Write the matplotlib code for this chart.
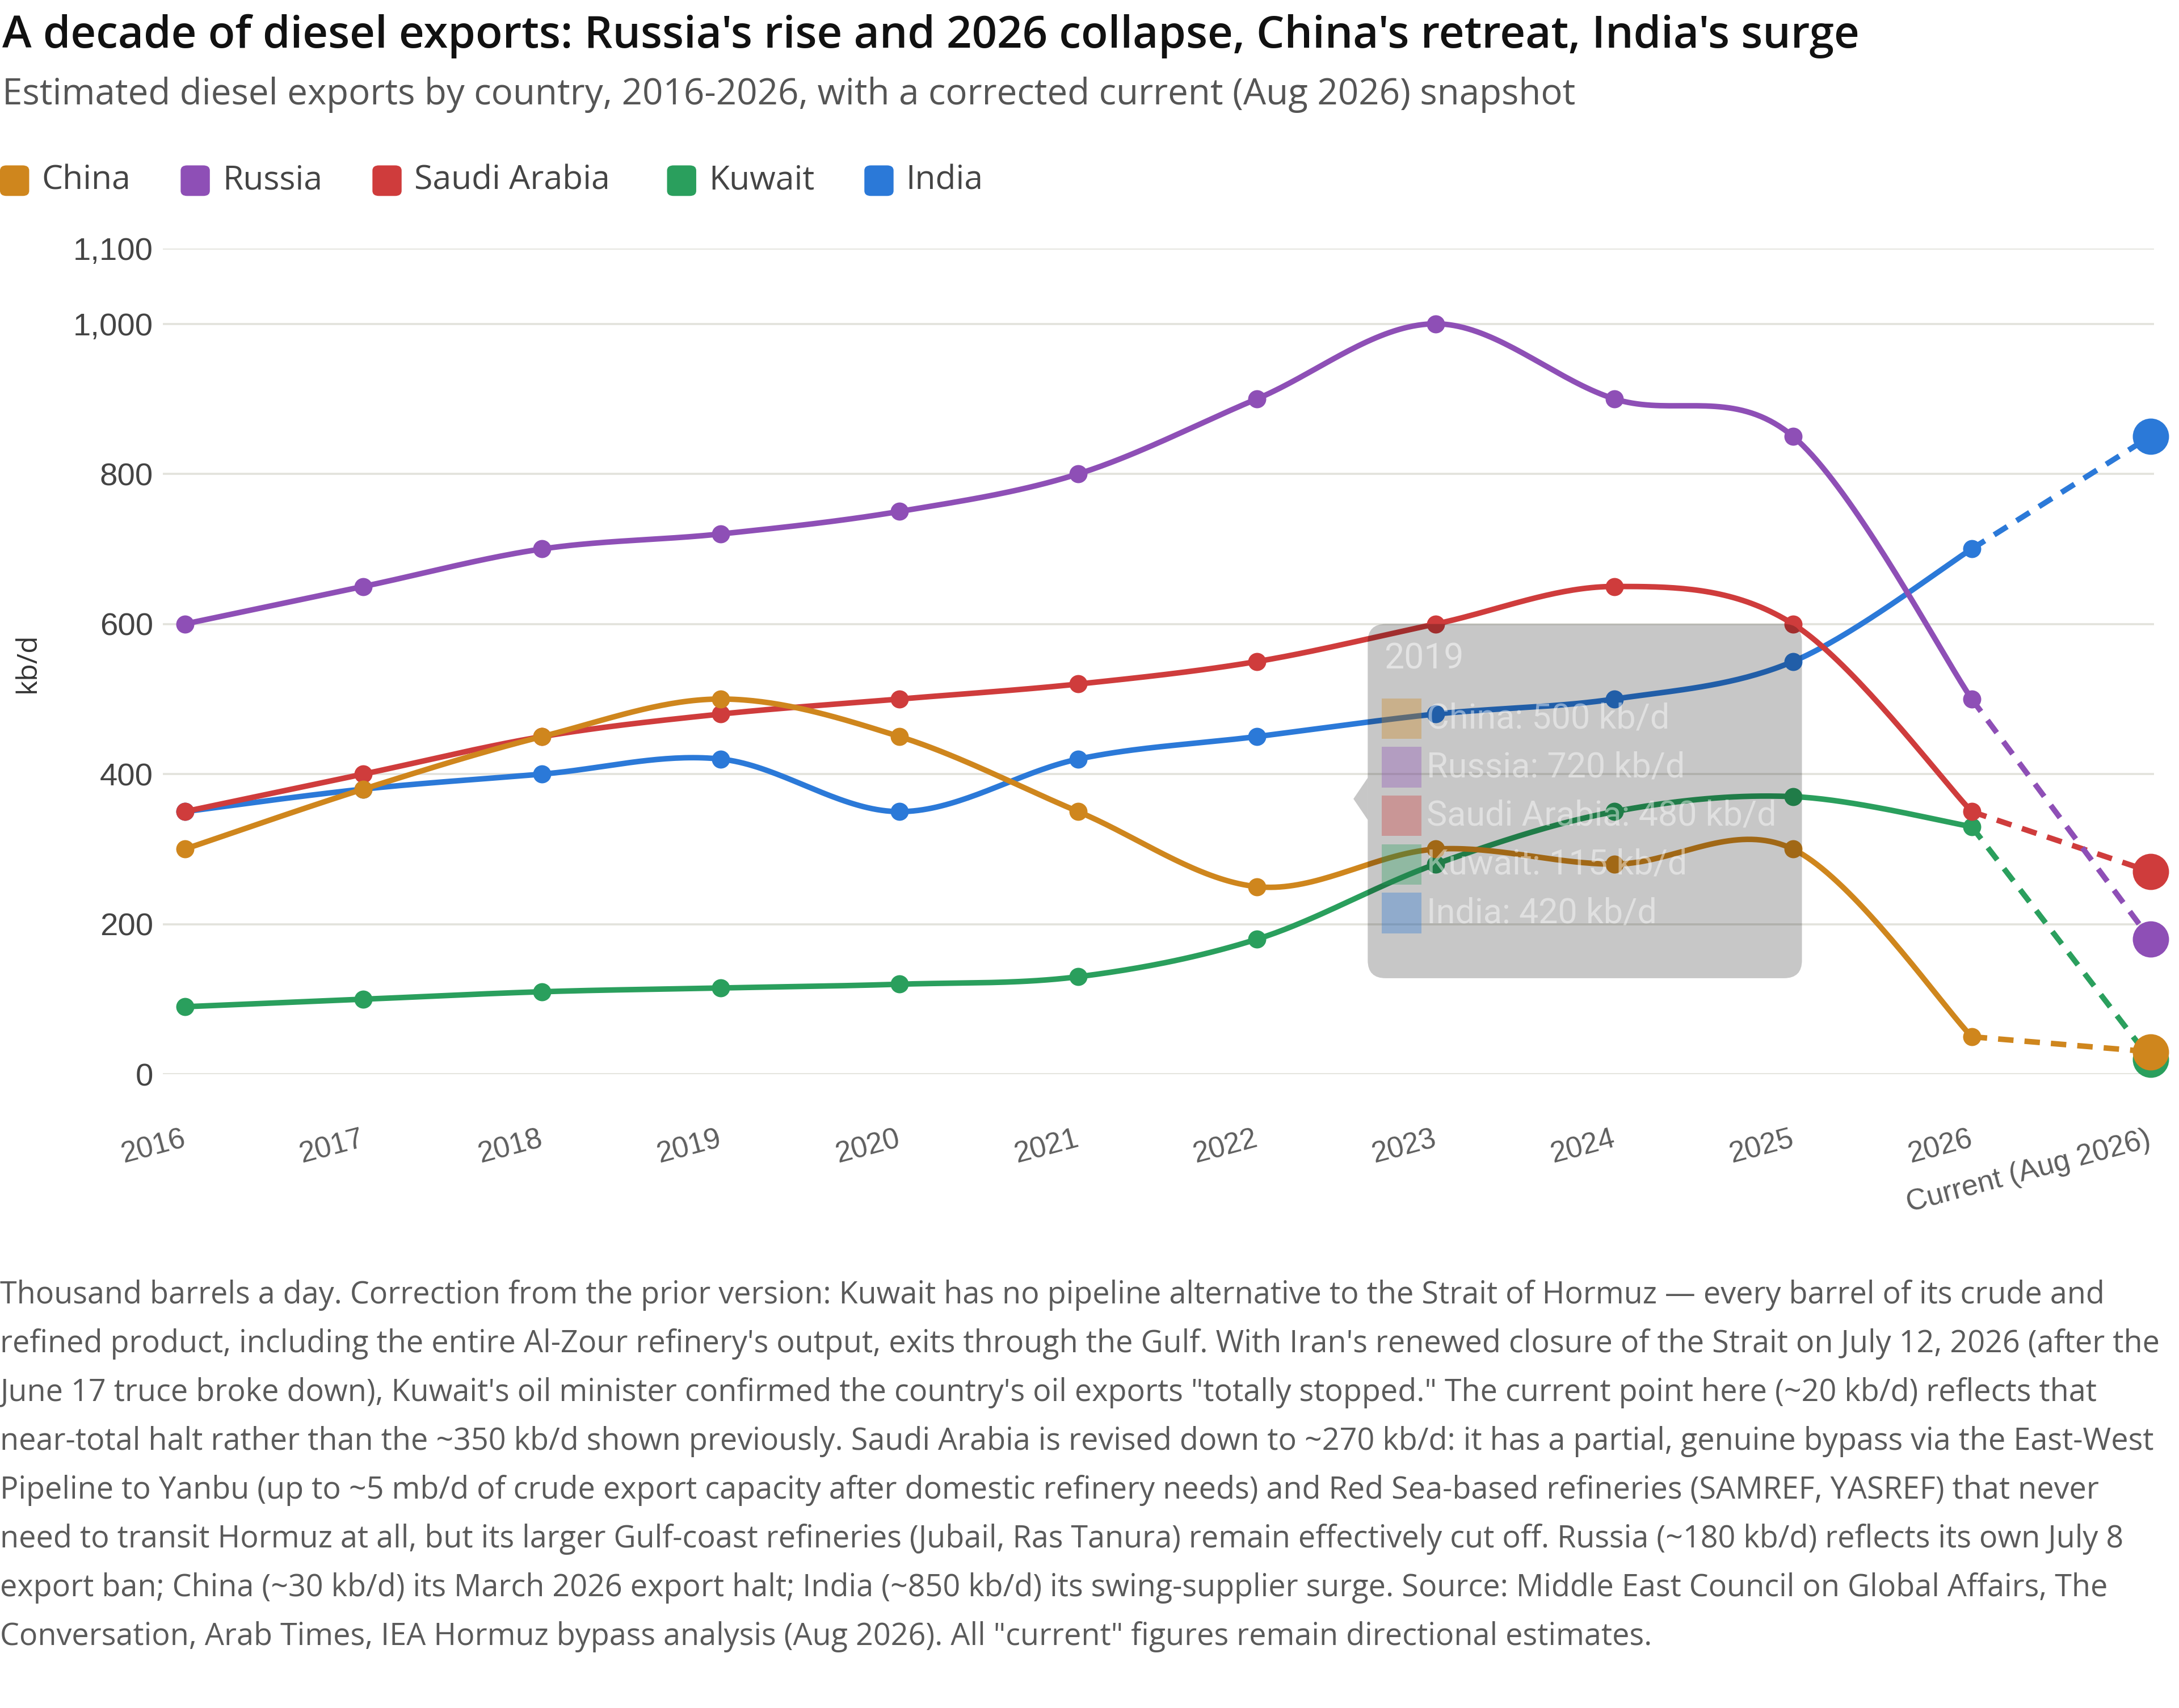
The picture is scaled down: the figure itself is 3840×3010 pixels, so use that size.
import numpy as np
import matplotlib.pyplot as plt
from matplotlib.patches import FancyBboxPatch, Polygon, Rectangle

# data (kb/d)
years = ['2016', '2017', '2018', '2019', '2020', '2021', '2022', '2023', '2024', '2025', '2026']
current_label = 'Current (Aug 2026)'
countries = ['China', 'Russia', 'Saudi Arabia', 'Kuwait', 'India']
colors = ['#cf861d', '#8e4fb6', '#cf3c3c', '#2a9f5d', '#2b79d8']

china = [300, 380, 450, 500, 450, 350, 250, 300, 280, 300, 50]
russia = [600, 650, 700, 720, 750, 800, 900, 1000, 900, 850, 500]
saudi = [350, 400, 450, 480, 500, 520, 550, 600, 650, 600, 350]
kuwait = [90, 100, 110, 115, 120, 130, 180, 280, 350, 370, 330]
india = [350, 380, 400, 420, 350, 420, 450, 480, 500, 550, 700]
current = [30, 180, 270, 20, 850]

yticks = [0, 200, 400, 600, 800, 1000, 1100]
tooltip_year = '2019'

title = "A decade of diesel exports: Russia's rise and 2026 collapse, China's retreat, India's surge"
subtitle = "Estimated diesel exports by country, 2016-2026, with a corrected current (Aug 2026) snapshot"
footnote = [
    "Thousand barrels a day. Correction from the prior version: Kuwait has no pipeline alternative to the Strait of Hormuz \u2014 every barrel of its crude and",
    "refined product, including the entire Al-Zour refinery's output, exits through the Gulf. With Iran's renewed closure of the Strait on July 12, 2026 (after the",
    "June 17 truce broke down), Kuwait's oil minister confirmed the country's oil exports \"totally stopped.\" The current point here (~20 kb/d) reflects that",
    "near-total halt rather than the ~350 kb/d shown previously. Saudi Arabia is revised down to ~270 kb/d: it has a partial, genuine bypass via the East-West",
    "Pipeline to Yanbu (up to ~5 mb/d of crude export capacity after domestic refinery needs) and Red Sea-based refineries (SAMREF, YASREF) that never",
    "need to transit Hormuz at all, but its larger Gulf-coast refineries (Jubail, Ras Tanura) remain effectively cut off. Russia (~180 kb/d) reflects its own July 8",
    "export ban; China (~30 kb/d) its March 2026 export halt; India (~850 kb/d) its swing-supplier surge. Source: Middle East Council on Global Affairs, The",
    "Conversation, Arab Times, IEA Hormuz bypass analysis (Aug 2026). All \"current\" figures remain directional estimates.",
]

series = [china, russia, saudi, kuwait, india]


def smooth(x, y, n=40):
    # catmull-rom style bezier through every point
    px = np.concatenate([[x[0]], x, [x[-1]]]).astype(float)
    py = np.concatenate([[y[0]], y, [y[-1]]]).astype(float)
    t = np.linspace(0, 1, n)[:, None]
    out = []
    for i in range(1, len(px) - 2):
        p0 = np.array([px[i - 1], py[i - 1]])
        p1 = np.array([px[i], py[i]])
        p2 = np.array([px[i + 1], py[i + 1]])
        p3 = np.array([px[i + 2], py[i + 2]])
        c1 = p1 + (p2 - p0) / 6
        c2 = p2 - (p3 - p1) / 6
        b = (1 - t) ** 3 * p1 + 3 * (1 - t) ** 2 * t * c1 + 3 * (1 - t) * t ** 2 * c2 + t ** 3 * p2
        out.append(b)
    pts = np.vstack(out)
    return pts[:, 0], pts[:, 1]


W, H = 1568, 1229  # layout grid used for placing things
fig = plt.figure(figsize=(19.2, 15.05), dpi=200)
fig.patch.set_facecolor('white')

body = ['Open Sans', 'DejaVu Sans']
tickfont = ['Liberation Sans', 'DejaVu Sans']

fig.text(0.001, 1 - 26 / H, title, fontsize=28.1, fontweight='semibold', family=body,
         color='#111111', va='center', ha='left')
fig.text(0.001, 1 - 68 / H, subtitle, fontsize=22.9, family=body, color='#555555',
         va='center', ha='left')

# legend
leg_x = [0, 130, 268, 480, 622]
for i, name in enumerate(countries):
    x0 = leg_x[i] / W
    fig.patches.append(FancyBboxPatch((x0, 1 - 141 / H), 21 / W, 22 / H,
                                      boxstyle='round,pad=0,rounding_size=0.003',
                                      transform=fig.transFigure, facecolor=colors[i],
                                      edgecolor='none', mutation_aspect=W / H * 0.784))
    fig.text(x0 + 30 / W, 1 - 130 / H, name, fontsize=21.2, family=body, color='#444444',
             va='center', ha='left')

ax = fig.add_axes([117 / W, 1 - 773 / H, (1550 - 117) / W, (773 - 179) / H])
xs = np.arange(len(years))
xc = len(years)

for i in reversed(range(len(countries))):
    z = 3 + 2 * (len(countries) - i)
    sx, sy = smooth(xs, series[i])
    ax.plot(sx, sy, color=colors[i], lw=3.5, zorder=z, solid_capstyle='round')
    ax.plot(xs, series[i], 'o', color=colors[i], ms=11.5, mew=0, zorder=z, clip_on=False)
    ax.plot([xs[-1], xc], [series[i][-1], current[i]], color=colors[i], lw=3.5,
            dashes=(2.8, 2.0), zorder=z)
    ax.plot(xc, current[i], 'o', color=colors[i], ms=23, mew=0, zorder=z + 1, clip_on=False)

ax.set_xlim(-0.124, 11.02)
ax.set_ylim(0, 1100)
ax.set_yticks(yticks)
ax.set_yticklabels([f'{v:,}' for v in yticks], family=tickfont, fontsize=20.3, color='#444444')
ax.set_xticks(list(xs) + [xc])
ax.set_xticklabels(years + [current_label], family=tickfont, fontsize=18.7, color='#5e5e5e',
                   rotation=15, ha='right', va='center', rotation_mode='anchor')
ax.tick_params(axis='both', length=0)
ax.tick_params(axis='y', pad=6)
ax.tick_params(axis='x', pad=41)
ax.grid(axis='y', color='#e2e2dc', lw=1.3)
ax.set_axisbelow(True)
for s in ax.spines.values():
    s.set_visible(False)

fig.text(20 / W, 1 - 477 / H, 'kb/d', rotation=90, fontsize=18, family=body, color='#333333',
         va='center', ha='center')

# tooltip overlay for 2019
ti = years.index(tooltip_year)
bx0, bx1, by0, by1 = 6.62, 9.05, 128, 600
asp = ((1550 - 117) / 11.144) / ((773 - 179) / 1100)
ax.add_patch(FancyBboxPatch((bx0, by0), bx1 - bx0, by1 - by0,
                            boxstyle='round,pad=0,rounding_size=0.1', mutation_aspect=asp,
                            facecolor='black', alpha=0.22, edgecolor='none', zorder=30,
                            clip_on=False))
ax.add_patch(Polygon([[bx0, 395], [bx0 - 0.08, 367], [bx0, 339]], closed=True,
                     facecolor='black', alpha=0.22, edgecolor='none', zorder=30, clip_on=False))
ax.text(6.71, 553, tooltip_year, fontsize=22.5, family=['Roboto', 'DejaVu Sans'],
        color='white', alpha=0.5, va='center', ha='left', zorder=31)
for k, name in enumerate(countries):
    yc = 474 - 64.8 * k
    ax.add_patch(Rectangle((6.70, yc - 27), 0.22, 54, facecolor=colors[k], alpha=0.35,
                           edgecolor='none', zorder=31))
    ax.text(6.95, yc, f'{name}: {series[k][ti]} kb/d', fontsize=22,
            family=['Roboto', 'DejaVu Sans'], color='white', alpha=0.45,
            va='center', ha='left', zorder=31)

for k, line in enumerate(footnote):
    fig.text(0.0, 1 - (932 + 35.1 * k) / H, line, fontsize=19.4, family=body, color='#5a5a5a',
             va='center', ha='left')

fig.savefig('out.png', dpi=200, facecolor='white')
